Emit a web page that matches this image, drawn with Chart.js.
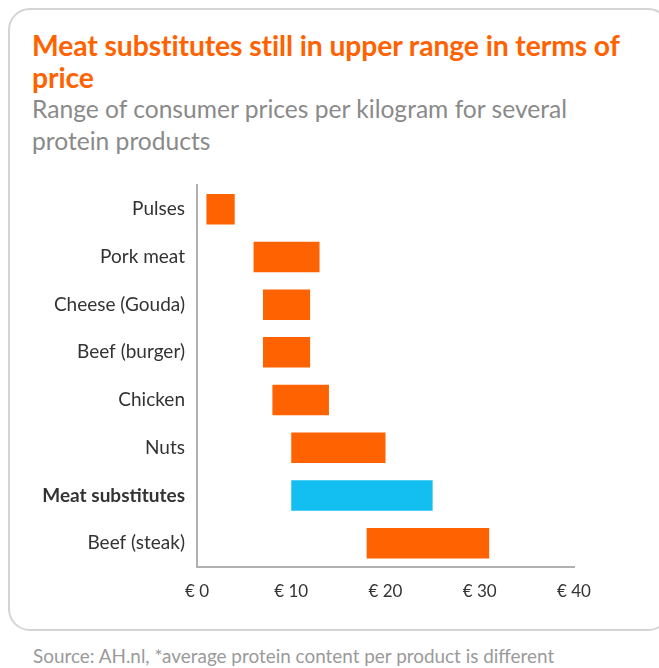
<!DOCTYPE html>
<html>
<head>
<meta charset="utf-8">
<script src="https://cdn.jsdelivr.net/npm/chart.js@4"></script>
<style>
  html, body { margin:0; padding:0; background:#fff; width:659px; height:668px; overflow:hidden; }
  #card { position:absolute; left:8px; top:8px; width:662px; height:623px; border:2px solid #d4d4d4; border-radius:22px; box-sizing:border-box; }
  .t { position:absolute; left:32px; font-family:Lato, "Open Sans", sans-serif; white-space:nowrap; }
  #title { top:29px; color:#FF6200; font-weight:bold; font-size:28.3px; line-height:32px; letter-spacing:-0.1px; }
  #sub { top:93px; color:#8a8a8a; font-size:24.6px; line-height:32px; }
  #src { top:644px; left:33px; color:#9a9a9a; font-size:18.9px; }
  #wrap { position:absolute; left:0; top:162px; width:659px; height:458px; }
</style>
</head>
<body>
<div id="card"></div>
<div class="t" id="title">Meat substitutes still in upper range in terms of<br>price</div>
<div class="t" id="sub">Range of consumer prices per kilogram for several<br>protein products</div>
<div class="t" id="src">Source: AH.nl, *average protein content per product is different</div>
<div id="wrap"><canvas id="c"></canvas></div>
<script>
const categories = ['Pulses','Pork meat','Cheese (Gouda)','Beef (burger)','Chicken','Nuts','Meat substitutes','Beef (steak)'];
const lowPrices  = [1, 6, 7, 7, 8, 10, 10, 18];
const highPrices = [4, 13, 12, 12, 14, 20, 25, 31];
const xTickLabels = ['€ 0','€ 10','€ 20','€ 30','€ 40'];
const highlight = 'Meat substitutes';

const ranges = categories.map((c, i) => [lowPrices[i], highPrices[i]]);
const colors = categories.map(c => c === highlight ? '#13BEF0' : '#FF6200');

new Chart(document.getElementById('c'), {
  type: 'bar',
  data: {
    labels: categories,
    datasets: [{
      data: ranges,
      backgroundColor: colors,
      borderWidth: 0,
      barPercentage: 0.64,
      categoryPercentage: 1.0
    }]
  },
  options: {
    indexAxis: 'y',
    responsive: true,
    maintainAspectRatio: false,
    animation: false,
    layout: { padding: { top: 0, right: 85, bottom: 0, left: 0 } },
    plugins: { legend: { display: false }, tooltip: { enabled: false } },
    scales: {
      x: {
        min: 0, max: 40,
        ticks: {
          stepSize: 10,
          padding: 14,
          color: '#333',
          font: { family: 'Lato', size: 17 },
          callback: (v, i) => xTickLabels[i]
        },
        grid: { display: false, drawTicks: false },
        border: { display: true, color: '#b0b0b0', width: 2 },
        afterFit: s => { s.height = 53; }
      },
      y: {
        ticks: {
          padding: 12,
          color: '#333',
          font: ctx => ({ family: 'Lato', size: 19, weight: categories[ctx.index] === highlight ? 'bold' : 'normal' })
        },
        grid: { display: false, drawTicks: false },
        border: { display: true, color: '#b0b0b0', width: 2 },
        afterFit: s => { s.width = 197; }
      }
    }
  }
});
</script>
</body>
</html>
